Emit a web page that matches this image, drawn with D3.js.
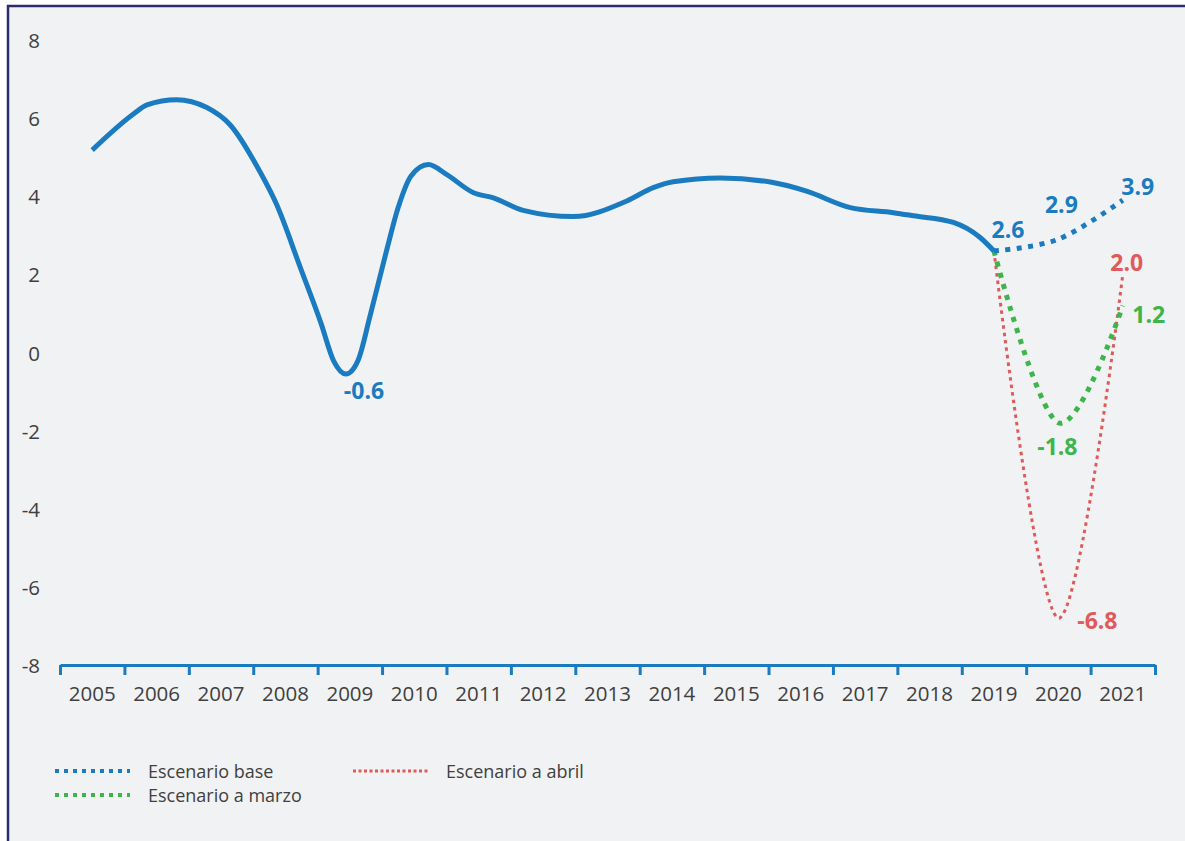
<!DOCTYPE html>
<html>
<head>
<meta charset="utf-8">
<script src="https://cdn.jsdelivr.net/npm/d3@7"></script>
<style>
  html, body { margin: 0; padding: 0; background: #ffffff; }
  svg { display: block; }
  text { font-family: "Open Sans", "Noto Sans", sans-serif; }
</style>
</head>
<body>
<svg id="chart" width="1185" height="841"></svg>
<script>
// ---------- DATA ----------
const yearLabels = ["2005","2006","2007","2008","2009","2010","2011","2012","2013","2014","2015","2016","2017","2018","2019","2020","2021"];
const yTicks = [8, 6, 4, 2, 0, -2, -4, -6, -8];

// Historical growth (decimal year position, value)
const histTime = [2005.50, 2006.13, 2006.35, 2006.81, 2007.28, 2007.64, 2008.10, 2008.36, 2008.73, 2009.05, 2009.25, 2009.44, 2009.63, 2009.81, 2010.07, 2010.25, 2010.45, 2010.72, 2011.00, 2011.42, 2011.73, 2012.19, 2012.97, 2013.80, 2014.21, 2014.52, 2015.25, 2016.07, 2016.59, 2017.27, 2017.94, 2018.25, 2018.87, 2019.28, 2019.50];
const histValues = [5.18, 6.09, 6.34, 6.47, 6.27, 5.83, 4.64, 3.80, 2.18, 0.76, -0.22, -0.55, -0.19, 0.91, 2.61, 3.71, 4.52, 4.81, 4.56, 4.09, 3.96, 3.64, 3.48, 3.88, 4.22, 4.37, 4.47, 4.35, 4.13, 3.71, 3.58, 3.50, 3.33, 2.95, 2.60];

// Scenarios
const scenTime = [2019.5, 2020.5, 2021.5];
const baseValues = [2.6, 2.9, 3.9];
const marchValues = [2.6, -1.8, 1.2];
const aprilValues = [2.6, -6.8, 2.0];

// Point labels
const pointLabels = [
  { t: 2009.44, v: -0.55, text: "-0.6", color: "#1b7bc1", dx: 18, dy: 16 },
  { t: 2019.5, v: 2.6, text: "2.6", color: "#1b7bc1", dx: 14, dy: -22 },
  { t: 2020.5, v: 2.9, text: "2.9", color: "#1b7bc1", dx: 3, dy: -35 },
  { t: 2021.5, v: 3.9, text: "3.9", color: "#1b7bc1", dx: 15, dy: -14 },
  { t: 2021.5, v: 2.0, text: "2.0", color: "#e05a5a", dx: 4, dy: -12 },
  { t: 2021.5, v: 1.2, text: "1.2", color: "#3db54b", dx: 26, dy: 8 },
  { t: 2020.5, v: -1.8, text: "-1.8", color: "#3db54b", dx: -1, dy: 23 },
  { t: 2020.5, v: -6.8, text: "-6.8", color: "#e05a5a", dx: 39, dy: 2 }
];

const legendItems = ["Escenario base", "Escenario a marzo", "Escenario a abril"];

// ---------- STYLE ----------
const BLUE = "#1b7bc1", GREEN = "#3db54b", RED = "#e05a5a", TEXT = "#404040";

const svg = d3.select("#chart");

// background panel with navy frame (top & left)
svg.append("rect").attr("x", 8).attr("y", 6).attr("width", 1177).attr("height", 835).attr("fill", "#f1f2f4");
svg.append("line").attr("x1", 7).attr("x2", 1185).attr("y1", 6).attr("y2", 6).attr("stroke", "#2a2c6c").attr("stroke-width", 2.5);
svg.append("line").attr("x1", 8).attr("x2", 8).attr("y1", 5).attr("y2", 841).attr("stroke", "#2a2c6c").attr("stroke-width", 2.5);

// ---------- SCALES ----------
const x = d3.scaleLinear().domain([2005, 2022]).range([60, 1155]);
const y = d3.scaleLinear().domain([-8, 8]).range([665, 40]);

// y tick labels (no axis line)
svg.append("g").selectAll("text").data(yTicks).join("text")
  .attr("x", 40).attr("y", d => y(d))
  .attr("text-anchor", "end").attr("dominant-baseline", "central")
  .attr("font-size", 20.5).attr("fill", TEXT)
  .text(d => d);

// x axis
const xAxis = d3.axisBottom(x)
  .tickValues(d3.range(2005, 2023))
  .tickSize(10).tickSizeOuter(0).tickFormat("");
const gx = svg.append("g").attr("transform", `translate(0,${y(-8)})`).call(xAxis);
gx.select(".domain").attr("stroke", BLUE).attr("stroke-width", 3);
gx.selectAll(".tick line").attr("stroke", BLUE).attr("stroke-width", 3);

svg.append("g").selectAll("text").data(yearLabels).join("text")
  .attr("x", d => x(+d + 0.5)).attr("y", 693)
  .attr("text-anchor", "middle").attr("dominant-baseline", "central")
  .attr("font-size", 20.5).attr("fill", TEXT)
  .text(d => d);

// ---------- LINES ----------
const line = d3.line().x(d => x(d[0])).y(d => y(d[1]));

svg.append("path")
  .datum(d3.zip(scenTime, aprilValues))
  .attr("d", line.curve(d3.curveCardinal.tension(0)))
  .attr("fill", "none").attr("stroke", RED).attr("stroke-width", 3)
  .attr("stroke-dasharray", "3.5,4");

svg.append("path")
  .datum(d3.zip(scenTime, marchValues))
  .attr("d", line.curve(d3.curveCardinal.tension(0)))
  .attr("fill", "none").attr("stroke", GREEN).attr("stroke-width", 5)
  .attr("stroke-dasharray", "5,6.5");

svg.append("path")
  .datum(d3.zip(scenTime, baseValues))
  .attr("d", line.curve(d3.curveCardinal.tension(0)))
  .attr("fill", "none").attr("stroke", BLUE).attr("stroke-width", 5)
  .attr("stroke-dasharray", "5,6.5");

svg.append("path")
  .datum(d3.zip(histTime, histValues))
  .attr("d", line.curve(d3.curveMonotoneX))
  .attr("fill", "none").attr("stroke", BLUE).attr("stroke-width", 5)
  .attr("stroke-linejoin", "round");

// ---------- POINT LABELS ----------
svg.append("g").selectAll("text").data(pointLabels).join("text")
  .attr("x", d => x(d.t) + d.dx).attr("y", d => y(d.v) + d.dy)
  .attr("text-anchor", "middle").attr("dominant-baseline", "central")
  .attr("font-size", 23).attr("font-weight", "bold")
  .attr("fill", d => d.color)
  .text(d => d.text);

// ---------- LEGEND ----------
const legend = [
  { label: legendItems[0], color: BLUE, w: 4, dash: "4,5", x0: 55, yy: 771 },
  { label: legendItems[1], color: GREEN, w: 4, dash: "4,5", x0: 55, yy: 795 },
  { label: legendItems[2], color: RED, w: 3, dash: "3,2.5", x0: 353, yy: 771 }
];
const lg = svg.append("g").selectAll("g").data(legend).join("g");
lg.append("line")
  .attr("x1", d => d.x0).attr("x2", d => d.x0 + 75)
  .attr("y1", d => d.yy).attr("y2", d => d.yy)
  .attr("stroke", d => d.color).attr("stroke-width", d => d.w)
  .attr("stroke-dasharray", d => d.dash);
lg.append("text")
  .attr("x", d => d.x0 + 93).attr("y", d => d.yy)
  .attr("dominant-baseline", "central")
  .attr("font-size", 18).attr("fill", TEXT)
  .text(d => d.label);
</script>
</body>
</html>
